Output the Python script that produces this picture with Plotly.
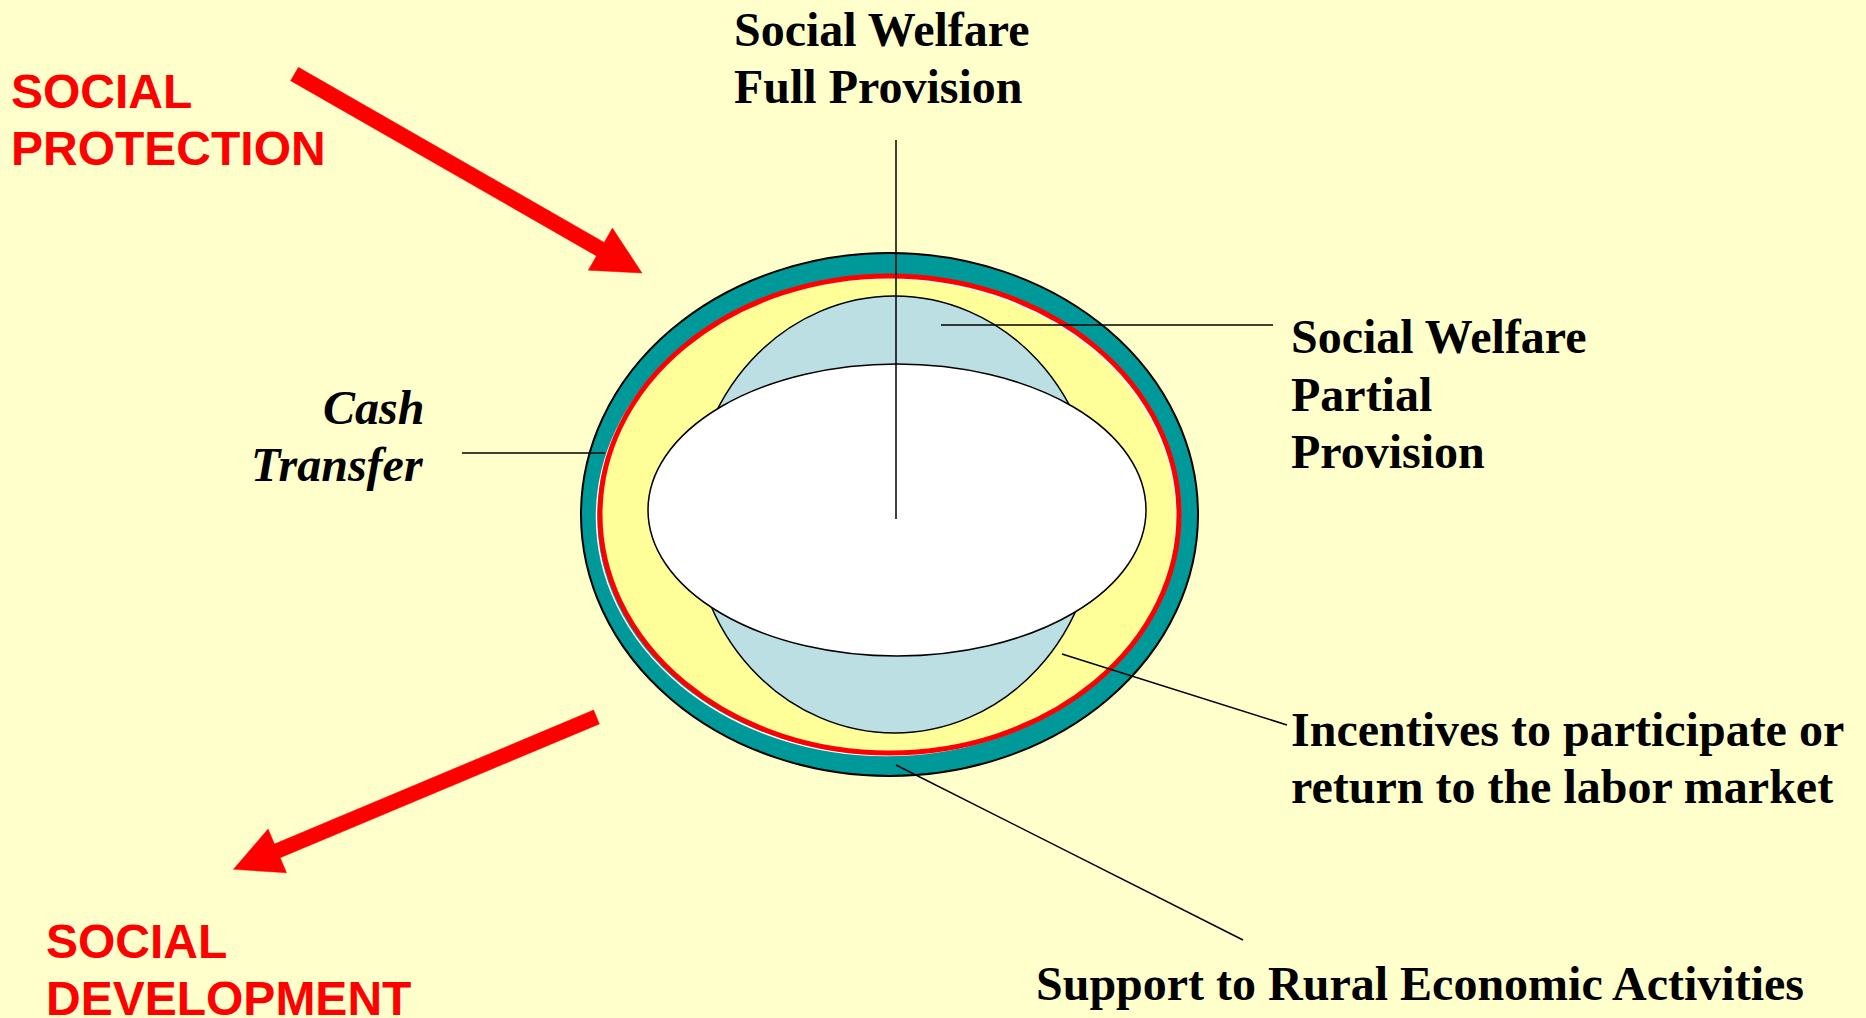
import math
import plotly.graph_objects as go

# ---------------- data (pixel space of a 1866 x 1018 canvas) ----------------
BG = "#FFFFCC"

# ellipses: [cx, cy, rx, ry]
outer_ring = [889.5, 514.5, 308.5, 261.5]
red_ring = [889.5, 514.5, 289.5, 238.5]
white_glint = [886.5, 517.0, 290.0, 238.5]
blue_oval = [894.5, 514.5, 202.0, 218.5]
white_oval = [897.0, 510.0, 249.0, 146.0]

# leader lines: [x0, y0, x1, y1]
leader_full = [896, 140, 896, 519]
leader_partial = [941, 325, 1273, 325]
leader_cash = [462, 453, 605, 453]
leader_incent = [1062, 654, 1287, 725]
leader_rural = [896, 765, 1243, 940]

# arrows: tail (x, y), tip (x, y), shaft width, head width, head length
arrow_protection = [294.5, 74.0, 642.0, 273.0, 15.5, 48.5, 48.0]
arrow_development = [596.5, 717.0, 233.5, 869.3, 15.0, 47.5, 47.5]

# labels: text, x, y(centre), anchor
black_labels = [
    ("Social Welfare", 732, 29, "left"),
    ("Full Provision", 732, 86, "left"),
    ("Social Welfare", 1289, 336, "left"),
    ("Partial", 1289, 394, "left"),
    ("Provision", 1289, 451, "left"),
    ("Incentives to participate or", 1289, 729, "left"),
    ("return to the labor market", 1289, 786, "left"),
    ("Support to Rural Economic Activities", 1034, 983, "left"),
]
italic_labels = [
    ("Cash", 426, 407, "right"),
    ("Transfer", 426, 464, "right"),
]
red_labels = [
    ("SOCIAL", 9, 91, "left"),
    ("PROTECTION", 9, 148, "left"),
    ("SOCIAL", 44, 941, "left"),
    ("DEVELOPMENT", 44, 998, "left"),
]

W, H = 1866, 1018

# ---------------- build ----------------
shapes = []


def ell(e, fill, line_color, line_width):
    cx, cy, rx, ry = e
    return dict(type="circle", xref="x", yref="y",
                x0=cx - rx, x1=cx + rx, y0=cy - ry, y1=cy + ry,
                fillcolor=fill, line=dict(color=line_color, width=line_width),
                layer="above")


def seg(s, width=1.5):
    return dict(type="line", xref="x", yref="y", x0=s[0], y0=s[1], x1=s[2], y1=s[3],
                line=dict(color="black", width=width), layer="above")


def arrow(a):
    tx, ty, hx, hy, sw, hw, hl = a
    dx, dy = hx - tx, hy - ty
    L = math.hypot(dx, dy)
    ux, uy = dx / L, dy / L
    px, py = -uy, ux
    bx, by = hx - ux * hl, hy - uy * hl
    pts = [
        (tx + px * sw / 2, ty + py * sw / 2),
        (bx + px * sw / 2, by + py * sw / 2),
        (bx + px * hw / 2, by + py * hw / 2),
        (hx, hy),
        (bx - px * hw / 2, by - py * hw / 2),
        (bx - px * sw / 2, by - py * sw / 2),
        (tx - px * sw / 2, ty - py * sw / 2),
    ]
    path = "M " + " L ".join(f"{x:.1f},{y:.1f}" for x, y in pts) + " Z"
    return dict(type="path", xref="x", yref="y", path=path,
                fillcolor="#FF0000", line=dict(color="#FF0000", width=0.5), layer="above")


shapes.append(ell(outer_ring, "#009999", "black", 2))
shapes.append(ell(red_ring, "#FFFF99", "rgba(0,0,0,0)", 0))
shapes.append(ell(white_glint, "rgba(0,0,0,0)", "white", 1.5))
shapes.append(ell(red_ring, "rgba(0,0,0,0)", "#FF0000", 5))
shapes.append(ell(blue_oval, "#BBDFE3", "black", 1.5))
shapes.append(ell(white_oval, "white", "black", 1.5))
for s in [leader_full, leader_partial, leader_cash, leader_incent, leader_rural]:
    shapes.append(seg(s))
shapes.append(arrow(arrow_protection))
shapes.append(arrow(arrow_development))

annotations = []
for txt, x, y, anc in black_labels:
    annotations.append(dict(text=f"<b>{txt}</b>", x=x, y=y, xref="x", yref="y",
                            xanchor=anc, yanchor="middle", showarrow=False,
                            font=dict(family="Liberation Serif, Times New Roman, serif",
                                      size=48, color="black")))
for txt, x, y, anc in italic_labels:
    annotations.append(dict(text=f"<b><i>{txt}</i></b>", x=x, y=y, xref="x", yref="y",
                            xanchor=anc, yanchor="middle", showarrow=False,
                            font=dict(family="Liberation Serif, Times New Roman, serif",
                                      size=48, color="black")))
for txt, x, y, anc in red_labels:
    annotations.append(dict(text=f"<b>{txt}</b>", x=x, y=y, xref="x", yref="y",
                            xanchor=anc, yanchor="middle", showarrow=False,
                            font=dict(family="Liberation Sans, Arial, sans-serif",
                                      size=48, color="#FF0000")))

fig = go.Figure()
fig.add_trace(go.Scatter(x=[0, W], y=[0, H], mode="markers",
                         marker=dict(opacity=0), hoverinfo="skip", showlegend=False))
fig.update_layout(
    width=W, height=H,
    margin=dict(l=0, r=0, t=0, b=0),
    paper_bgcolor=BG, plot_bgcolor=BG,
    xaxis=dict(range=[0, W], visible=False, fixedrange=True),
    yaxis=dict(range=[H, 0], visible=False, fixedrange=True),
    shapes=shapes, annotations=annotations,
    showlegend=False,
)
fig.write_html(
    "out.html",
    config={"displayModeBar": False},
    post_script="document.body.style.margin='0';document.body.style.overflow='hidden';"
                "document.body.style.background='" + BG + "';",
)
